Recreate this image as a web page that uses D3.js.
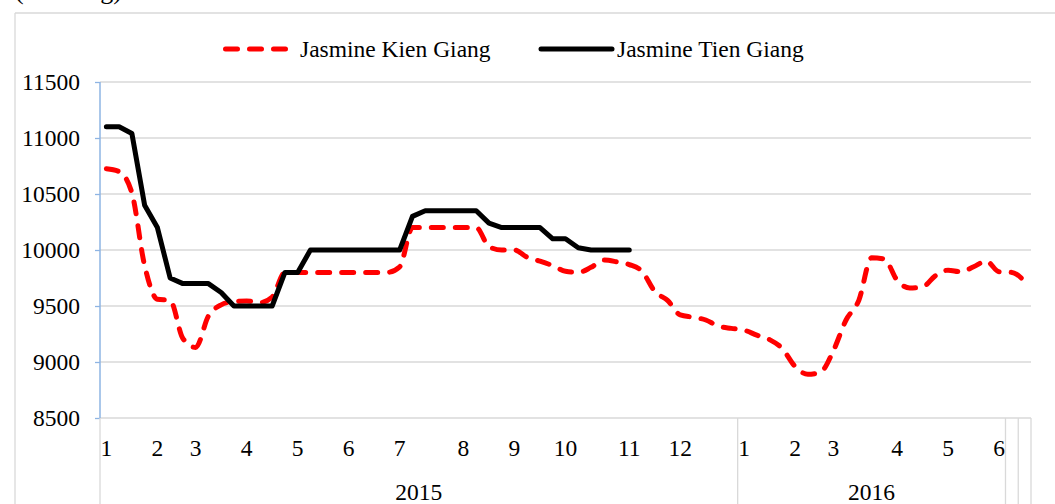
<!DOCTYPE html>
<html>
<head>
<meta charset="utf-8">
<script src="https://cdn.jsdelivr.net/npm/d3@7"></script>
<style>
  html, body { margin: 0; padding: 0; background: #fff; }
  svg { display: block; font-family: "Liberation Serif", "Times New Roman", serif; }
</style>
</head>
<body>
<svg id="chart" width="1055" height="504"></svg>
<script>
// ---- Data (weekly observations, VND/kg) ----
const weekLabels = [
  "1","","","","2","","","3","","","","4","","","","5","","","","6","","","","7","","","","","8","","","","9","","","","10","","","","","11","","","","12","","","","",
  "1","","","","2","","","3","","","","","4","","","","5","","","","6","",""
];
const yearLabels = ["2015", "2016", "", ""];
const yearSpans  = [50, 21, 1, 1];

const kienGiang = [
  10725, 10700, 10510, 9860, 9560, 9550, 9210, 9130, 9410, 9510,
  9540, 9545, 9530, 9580, 9800, 9800, 9800, 9800, 9800, 9800,
  9800, 9800, 9800, 9850, 10200, 10200, 10200, 10200, 10200, 10200,
  10030, 10000, 10000, 9935, 9900, 9860, 9810, 9800, 9845, 9910,
  9895, 9870, 9810, 9630, 9550, 9420, 9400, 9375, 9320, 9300,
  9285, 9240, 9200, 9120, 8960, 8890, 8910, 9100, 9375, 9550,
  9930, 9920, 9730, 9660, 9670, 9770, 9820, 9805, 9850, 9900,
  9805, 9800, 9720
];
const tienGiang = [
  11100, 11100, 11040, 10400, 10200, 9750, 9700, 9700, 9700, 9620,
  9500, 9500, 9500, 9500, 9800, 9800, 10000, 10000, 10000, 10000,
  10000, 10000, 10000, 10000, 10300, 10350, 10350, 10350, 10350, 10350,
  10240, 10200, 10200, 10200, 10200, 10100, 10100, 10020, 10000, 10000,
  10000, 10000
];
const seriesNames = ["Jasmine Kien Giang", "Jasmine Tien Giang"];
const yTicks = [8500, 9000, 9500, 10000, 10500, 11000, 11500];
const unitLabel = "(VND/kg)";

// ---- Layout ----
const svg = d3.select("#chart");
const L = 100, R = 1031, T = 82, B = 418;
const FONT = 23.5;
const gridColor = "#D9D9D9";
const axisBlue = "#8EB4E3";

const idx = d3.range(weekLabels.length);
const x = d3.scaleBand().domain(idx).range([L, R]).paddingInner(0).paddingOuter(0);
const xc = k => x(k) + x.bandwidth() / 2;
const y = d3.scaleLinear().domain([8500, 11500]).range([B, T]);

// outer chart frame (partially visible)
svg.append("line").attr("x1", 15).attr("x2", 1060).attr("y1", 13).attr("y2", 13)
  .attr("stroke", gridColor).attr("stroke-width", 1.3);
svg.append("line").attr("x1", 15).attr("x2", 15).attr("y1", 13).attr("y2", 520)
  .attr("stroke", gridColor).attr("stroke-width", 1.3);

// cut-off unit label at top
svg.append("text").attr("x", 15).attr("y", -1).attr("font-size", 26).attr("fill", "#000").text(unitLabel);

// gridlines
svg.append("g").selectAll("line").data(yTicks).join("line")
  .attr("x1", L).attr("x2", R)
  .attr("y1", d => y(d)).attr("y2", d => y(d))
  .attr("stroke", gridColor).attr("stroke-width", 1.3);

// y axis
const yAxis = d3.axisLeft(y).tickValues(yTicks).tickSize(5).tickPadding(15).tickFormat(d3.format("d"));
const gy = svg.append("g").attr("transform", `translate(${L},0)`).call(yAxis);
gy.select(".domain").attr("stroke", axisBlue).attr("stroke-width", 1.5).attr("d", `M-0,${T}V${B}`);
gy.selectAll(".tick line").attr("stroke", axisBlue).attr("stroke-width", 1.3);
gy.selectAll(".tick text").attr("font-size", FONT).attr("font-family", "Liberation Serif")
  .attr("fill", "#000").attr("dy", "0.33em");

// category axis: month labels
const gx = svg.append("g");
gx.selectAll("text.m").data(idx.filter(k => weekLabels[k] !== "")).join("text")
  .attr("class", "m")
  .attr("x", k => xc(k)).attr("y", 456)
  .attr("text-anchor", "middle").attr("font-size", FONT).attr("fill", "#000")
  .text(k => weekLabels[k]);

// year groups
let acc = 0;
const groups = yearLabels.map((lab, i) => { const g = {label: lab, start: acc, end: acc + yearSpans[i]}; acc += yearSpans[i]; return g; });
const boundaryX = k => (k >= weekLabels.length ? x.range()[1] : x(k));
const seps = [0].concat(groups.map(g => g.end));
gx.selectAll("line.sep").data(seps).join("line").attr("class", "sep")
  .attr("x1", k => boundaryX(k)).attr("x2", k => boundaryX(k))
  .attr("y1", B).attr("y2", 520)
  .attr("stroke", gridColor).attr("stroke-width", 1.3);
gx.selectAll("text.y").data(groups.filter(g => g.label)).join("text").attr("class", "y")
  .attr("x", g => (boundaryX(g.start) + boundaryX(g.end)) / 2).attr("y", 500)
  .attr("text-anchor", "middle").attr("font-size", FONT).attr("fill", "#000")
  .text(g => g.label);

// lines
const lineGen = d3.line().x((d, i) => xc(i)).y(d => y(d));
svg.append("path").datum(kienGiang)
  .attr("d", lineGen.curve(d3.curveMonotoneX))
  .attr("fill", "none").attr("stroke", "#FF0000").attr("stroke-width", 5)
  .attr("stroke-dasharray", "12,12").attr("stroke-linecap", "round").attr("stroke-linejoin", "round");
svg.append("path").datum(tienGiang)
  .attr("d", d3.line().x((d, i) => xc(i)).y(d => y(d)))
  .attr("fill", "none").attr("stroke", "#000").attr("stroke-width", 5)
  .attr("stroke-linecap", "round").attr("stroke-linejoin", "round");

// legend
const lg = svg.append("g");
lg.append("line").attr("x1", 225.5).attr("x2", 287).attr("y1", 49).attr("y2", 49)
  .attr("stroke", "#FF0000").attr("stroke-width", 5).attr("stroke-dasharray", "12,12").attr("stroke-linecap", "round");
lg.append("text").attr("x", 300).attr("y", 57).attr("font-size", FONT).attr("fill", "#000").text(seriesNames[0]);
lg.append("line").attr("x1", 541).attr("x2", 612).attr("y1", 49).attr("y2", 49)
  .attr("stroke", "#000").attr("stroke-width", 5).attr("stroke-linecap", "round");
lg.append("text").attr("x", 617).attr("y", 57).attr("font-size", FONT).attr("fill", "#000").text(seriesNames[1]);
</script>
</body>
</html>
